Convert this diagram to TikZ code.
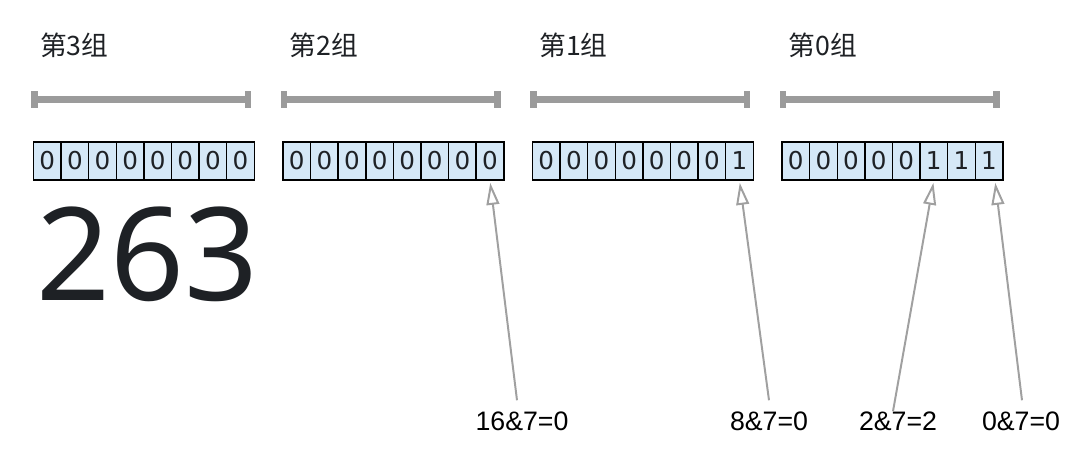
\documentclass[tikz,border=0pt]{standalone}
\usepackage{fontspec}
\usetikzlibrary{arrows.meta}
\newfontfamily\cjkfont{Noto Sans CJK SC}
\newfontfamily\bitfont{DejaVu Sans}
\newfontfamily\numfont{Noto Sans}
\newfontfamily\resfont{Liberation Sans}
\definecolor{CellBlue}{RGB}{213,232,247}
\definecolor{BarGray}{RGB}{155,155,155}
\definecolor{LinkGray}{RGB}{160,160,160}
\definecolor{InkBlack}{RGB}{30,33,37}

\begin{document}
\begin{tikzpicture}[x=0.025cm,y=-0.025cm,>={Triangle[open,length=0.55cm,width=0.32cm]},
  bit/.style={draw=black,line width=1pt,fill=CellBlue,minimum width=0.69cm,minimum height=0.95cm,inner sep=0pt,text=InkBlack,font=\bitfont\fontsize{17.5pt}{17.5pt}\selectfont},
  grp/.style={anchor=west,inner sep=0pt,text=InkBlack,font=\cjkfont\fontsize{19pt}{19pt}\selectfont},
  bar/.style={BarGray,line width=4.6pt},
  res/.style={inner sep=0pt,text=black,font=\resfont\fontsize{19pt}{19pt}\selectfont},
  link/.style={LinkGray,line width=1.4pt,->,shorten >=1.5pt}]
\useasboundingbox[fill=white] (0,0) rectangle (1080,456);
\foreach \g/\bits [count=\k from 0] in {3/{0,0,0,0,0,0,0,0},2/{0,0,0,0,0,0,0,0},1/{0,0,0,0,0,0,0,1},0/{0,0,0,0,0,1,1,1}} {
  \node[grp] (t\g) at (40+249.5*\k,45) {第\g{}组};
  \draw[bar] (34.5+249.5*\k,91) -- ++(0,17) ++(0,-8.5) -- ++(213.5,0) ++(0,-8.5) -- ++(0,17);
  \foreach \b [count=\i from 0] in \bits
    \node[bit] (g\g c\i) at (47.3+249.5*\k+27.6*\i,161) {\b};
}
\node[anchor=base west,inner sep=0pt,text=InkBlack,font=\numfont\fontsize{92pt}{92pt}\selectfont] (num) at (36,300) {263};
\node[res] (r16) at (522,421) {16\&7=0};
\node[res] (r8) at (769,421) {8\&7=0};
\node[res] (r2) at (898,421) {2\&7=2};
\node[res] (r0) at (1021,421) {0\&7=0};
\draw[link] ([shift={(-5,-11)}]r16.north) -- (g2c7.south);
\draw[link] ([shift={(0,-11)}]r8.north) -- (g1c7.south);
\draw[link] ([shift={(-5,0)}]r2.north) -- (g0c5.south);
\draw[link] ([shift={(1,-11)}]r0.north) -- ([xshift=0.15cm]g0c7.south);
\end{tikzpicture}
\end{document}
